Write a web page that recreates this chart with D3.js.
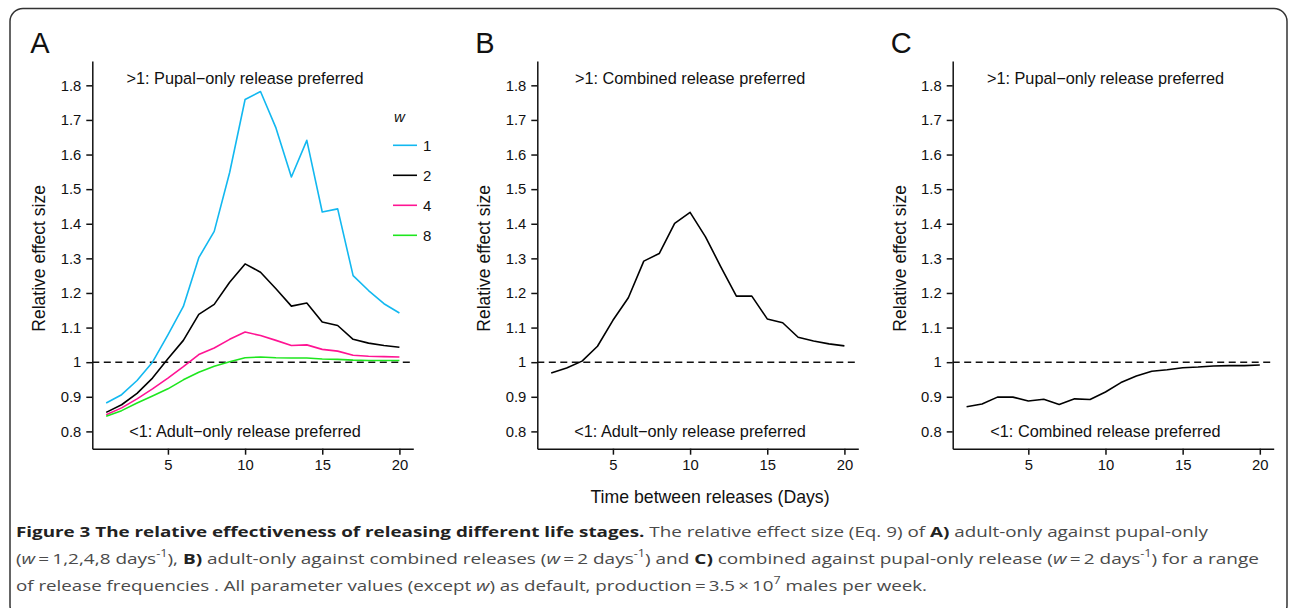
<!DOCTYPE html>
<html>
<head>
<meta charset="utf-8">
<script src="https://cdn.jsdelivr.net/npm/d3@7"></script>
<style>
  body { margin: 0; background: #fff; }
  .tick text { font-family: "Liberation Sans", Arial, sans-serif; font-size: 14.8px; fill: #111; }
  .tick line, .domain { stroke: #111; stroke-width: 1.5px; }
</style>
</head>
<body>
<div id="fig"></div>
<script>
// release interval (days)
var days = [1, 2, 3, 4, 5, 6, 7, 8, 9, 10, 11, 12, 13, 14, 15, 16, 17, 18, 19, 20];

// panel A, adult-only vs pupal-only, one series per w
var aW1 = [0.882, 0.906, 0.947, 1.000, 1.079, 1.161, 1.302, 1.378, 1.548, 1.759, 1.782, 1.677, 1.535, 1.641, 1.434, 1.443, 1.250, 1.207, 1.169, 1.142];
var aW2 = [0.855, 0.877, 0.910, 0.954, 1.010, 1.063, 1.138, 1.167, 1.231, 1.284, 1.260, 1.212, 1.162, 1.171, 1.116, 1.106, 1.066, 1.055, 1.048, 1.043];
var aW4 = [0.848, 0.868, 0.894, 0.923, 0.954, 0.987, 1.022, 1.041, 1.066, 1.087, 1.077, 1.063, 1.048, 1.050, 1.037, 1.032, 1.020, 1.017, 1.016, 1.015];
var aW8 = [0.844, 0.860, 0.882, 0.902, 0.923, 0.949, 0.971, 0.988, 1.001, 1.013, 1.015, 1.013, 1.012, 1.012, 1.009, 1.008, 1.006, 1.005, 1.005, 1.005];

// panel B, adult-only vs combined (w = 2)
var bVals = [0.969, 0.983, 1.003, 1.046, 1.121, 1.186, 1.292, 1.314, 1.401, 1.433, 1.362, 1.275, 1.191, 1.191, 1.125, 1.114, 1.072, 1.061, 1.053, 1.047];

// panel C, combined vs pupal-only (w = 2)
var cVals = [0.871, 0.879, 0.899, 0.899, 0.888, 0.893, 0.878, 0.894, 0.892, 0.914, 0.941, 0.960, 0.974, 0.978, 0.984, 0.986, 0.989, 0.990, 0.990, 0.992];

var legendLabels = ["1", "2", "4", "8"];
var seriesColors = ["#12b8f0", "#000000", "#ff1493", "#1ee61e"];
var yTicks = [0.8, 0.9, 1.0, 1.1, 1.2, 1.3, 1.4, 1.5, 1.6, 1.7, 1.8];
var xTicks = [5, 10, 15, 20];

var svgWidth = 1290;
var svgHeight = 608;
var plotWidth = 321;
var font = "'Liberation Sans', Arial, sans-serif";
var capFont = "'Open Sans', sans-serif";

var svg = d3.select("#fig")
  .append("svg")
  .attr("width", svgWidth)
  .attr("height", svgHeight);

// outer frame
svg.append("rect")
  .attr("x", 10)
  .attr("y", 8.5)
  .attr("width", 1277)
  .attr("height", 610)
  .attr("rx", 13)
  .attr("fill", "none")
  .attr("stroke", "#333")
  .attr("stroke-width", 1.5);

var yScale = d3.scaleLinear()
  .domain([0.75, 1.87])
  .range([448.7, 61.1]);

function drawPanel(left, letter, series, topNote, bottomNote) {
  var g = svg.append("g").attr("transform", `translate(${left}, 0)`);

  var xScale = d3.scaleLinear()
    .domain([0.1, 20.9])
    .range([0, plotWidth]);

  g.append("g")
    .attr("transform", `translate(0, ${yScale(0.75)})`)
    .call(d3.axisBottom(xScale).tickValues(xTicks).tickSize(6).tickPadding(5).tickSizeOuter(0));

  g.append("g")
    .call(d3.axisLeft(yScale).tickValues(yTicks).tickSize(6).tickPadding(5).tickSizeOuter(0)
      .tickFormat(d => String(+d.toFixed(1))));

  // reference line at 1
  g.append("line")
    .attr("x1", xScale(0.1))
    .attr("x2", xScale(20.9))
    .attr("y1", yScale(1))
    .attr("y2", yScale(1))
    .attr("stroke", "#111")
    .attr("stroke-width", 1.5)
    .attr("stroke-dasharray", "7,4.5");

  var line = d3.line()
    .x((d, i) => xScale(days[i]))
    .y(d => yScale(d));

  series.forEach(function(s) {
    g.append("path")
      .datum(s.values)
      .attr("d", line)
      .attr("fill", "none")
      .attr("stroke", s.color)
      .attr("stroke-width", 1.6)
      .attr("stroke-linejoin", "round");
  });

  g.append("text")
    .attr("x", xScale(10))
    .attr("y", yScale(1.8) - 1)
    .attr("text-anchor", "middle")
    .attr("font-family", font)
    .attr("font-size", "16.3px")
    .attr("fill", "#111")
    .text(topNote);

  g.append("text")
    .attr("x", xScale(10))
    .attr("y", yScale(0.8) + 6)
    .attr("text-anchor", "middle")
    .attr("font-family", font)
    .attr("font-size", "16.3px")
    .attr("fill", "#111")
    .text(bottomNote);

  g.append("text")
    .attr("transform", `translate(-47, ${yScale(1.3)}) rotate(-90)`)
    .attr("text-anchor", "middle")
    .attr("font-family", font)
    .attr("font-size", "17.5px")
    .attr("fill", "#111")
    .text("Relative effect size");

  svg.append("text")
    .attr("x", left - 62)
    .attr("y", 52.7)
    .attr("font-family", font)
    .attr("font-size", "29px")
    .attr("fill", "#111")
    .text(letter);

  return { g: g, xScale: xScale };
}

var panelA = drawPanel(92.3, "A", [
  { values: aW1, color: seriesColors[0] },
  { values: aW2, color: seriesColors[1] },
  { values: aW4, color: seriesColors[2] },
  { values: aW8, color: seriesColors[3] }
], ">1: Pupal\u2212only release preferred", "<1: Adult\u2212only release preferred");

drawPanel(537.3, "B", [{ values: bVals, color: "#000" }],
  ">1: Combined release preferred", "<1: Adult\u2212only release preferred");

drawPanel(952.7, "C", [{ values: cVals, color: "#000" }],
  ">1: Pupal\u2212only release preferred", "<1: Combined release preferred");

// legend for panel A
var legend = svg.append("g").attr("transform", "translate(393, 0)");
legend.append("text")
  .attr("x", 1)
  .attr("y", 121.5)
  .attr("font-family", font)
  .attr("font-style", "italic")
  .attr("font-size", "15px")
  .attr("fill", "#111")
  .text("w");

legendLabels.forEach(function(lab, i) {
  var ly = 145.3 + i * 30;
  legend.append("line")
    .attr("x1", 0).attr("x2", 24)
    .attr("y1", ly).attr("y2", ly)
    .attr("stroke", seriesColors[i])
    .attr("stroke-width", 1.6);
  legend.append("text")
    .attr("x", 30)
    .attr("y", ly + 5.3)
    .attr("font-family", font)
    .attr("font-size", "15px")
    .attr("fill", "#111")
    .text(lab);
});

// shared x title
svg.append("text")
  .attr("x", 710)
  .attr("y", 503)
  .attr("text-anchor", "middle")
  .attr("font-family", font)
  .attr("font-size", "17.7px")
  .attr("fill", "#111")
  .text("Time between releases (Days)");

// caption
var caption = svg.append("g")
  .attr("font-family", capFont)
  .attr("font-size", "15px")
  .attr("fill", "#4a4a4a");

function capLine(y, len, parts) {
  var t = caption.append("text")
    .attr("x", 16)
    .attr("y", y)
    .attr("textLength", len)
    .attr("lengthAdjust", "spacingAndGlyphs");
  parts.forEach(function(p) {
    var ts = t.append("tspan").text(p.t);
    if (p.b) ts.attr("font-weight", "bold").attr("fill", "#222");
    if (p.i) ts.attr("font-style", "italic");
    if (p.sup) ts.attr("font-size", "10px").attr("dy", -7);
    if (p.down) ts.attr("dy", 7);
  });
}

capLine(537, 1192, [
  { t: "Figure 3 The relative effectiveness of releasing different life stages.", b: true },
  { t: " The relative effect size (Eq. 9) of " },
  { t: "A)", b: true },
  { t: " adult-only against pupal-only" }
]);

capLine(564, 1243, [
  { t: "(" },
  { t: "w", i: true },
  { t: "\u2009=\u20091,2,4,8 days" },
  { t: "-1", sup: true },
  { t: "), ", down: true },
  { t: "B)", b: true },
  { t: " adult-only against combined releases (" },
  { t: "w", i: true },
  { t: "\u2009=\u20092 days" },
  { t: "-1", sup: true },
  { t: ") and ", down: true },
  { t: "C)", b: true },
  { t: " combined against pupal-only release (" },
  { t: "w", i: true },
  { t: "\u2009=\u20092 days" },
  { t: "-1", sup: true },
  { t: ") for a range", down: true }
]);

capLine(591, 911, [
  { t: "of release frequencies . All parameter values (except " },
  { t: "w", i: true },
  { t: ") as default, production\u2009=\u20093.5\u2009\u00d7\u200910" },
  { t: "7", sup: true },
  { t: " males per week.", down: true }
]);
</script>
</body>
</html>
